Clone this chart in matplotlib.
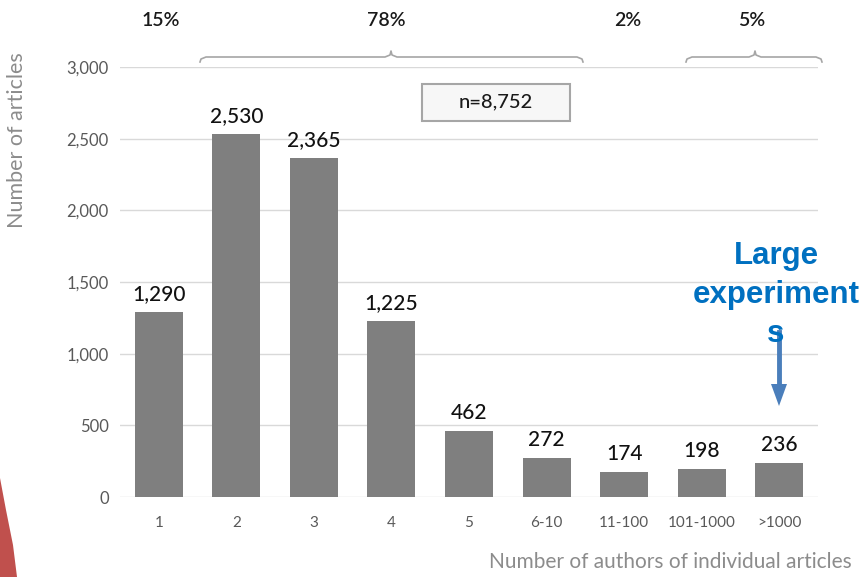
import matplotlib.pyplot as plt
from matplotlib.patches import Rectangle, Polygon

plt.rcParams['font.family'] = ['Lato', 'DejaVu Sans']

# --- DATA ---
categories = ['1', '2', '3', '4', '5', '6-10', '11-100', '101-1000', '>1000']
articles = [1290, 2530, 2365, 1225, 462, 272, 174, 198, 236]
value_labels = ['1,290', '2,530', '2,365', '1,225', '462', '272', '174', '198', '236']
yticks = [0, 500, 1000, 1500, 2000, 2500, 3000]
ytick_labels = ['0', '500', '1,000', '1,500', '2,000', '2,500', '3,000']
shares = ['15%', '78%', '2%', '5%']
total_label = 'n=8,752'

W, H = 866, 577
fig = plt.figure(figsize=(W / 100, H / 100), dpi=100)
ax = fig.add_axes([120 / W, 1 - 497 / H, (818 - 120) / W, (497 - 67) / H])

x = list(range(len(categories)))
ax.bar(x, articles, width=0.62, color='#7f7f7f', zorder=3)
for xi, v, lab in zip(x, articles, value_labels):
    ax.text(xi, v + 55, lab, ha='center', va='bottom', fontsize=15, color='#111111',
            fontweight='medium')

ax.set_xlim(-0.5, 8.5)
ax.set_ylim(0, 3000)
ax.set_yticks(yticks)
ax.set_yticklabels(ytick_labels)
ax.set_xticks(x)
ax.set_xticklabels(categories)
ax.tick_params(axis='y', length=0, pad=8, labelsize=12, labelcolor='#595959')
ax.tick_params(axis='x', length=0, pad=14, labelsize=11, labelcolor='#595959')
ax.grid(axis='y', color='#d9d9d9', linewidth=1, zorder=0)
for s in ax.spines.values():
    s.set_visible(False)

fig.text(17 / W, 1 - 140 / H, 'Number of articles', rotation=90, ha='center', va='center',
         fontsize=15.5, color='#8c8c8c')
fig.text(670 / W, 1 - 562 / H, 'Number of authors of individual articles', ha='center',
         va='center', fontsize=15, color='#8c8c8c')


# --- braces and shares above the plot (pixel coords -> figure coords) ---
def px(xp, yp):
    return xp / W, 1 - yp / H


def brace(x0, x1, xm, y_end=62, y_mid=57, y_top=51, r=6):
    pts = [(x0, y_end), (x0 + 1, y_mid + 2), (x0 + r, y_mid), (xm - r, y_mid),
           (xm - 1, y_mid - 2), (xm, y_top), (xm + 1, y_mid - 2), (xm + r, y_mid),
           (x1 - r, y_mid), (x1 - 1, y_mid + 2), (x1, y_end)]
    xs, ys = zip(*[px(a, b) for a, b in pts])
    fig.add_artist(plt.Line2D(xs, ys, color='#a6a6a6', linewidth=1.2))


brace(200, 583, 391)
brace(686, 822, 755)
for xs_, lab in zip([161, 386, 628, 752], shares):
    fig.text(*px(xs_, 20), lab, ha='center', va='center', fontsize=14, color='#1a1a1a',
             fontweight='semibold')

# n= box
fig.add_artist(Rectangle(px(422, 121), 148 / W, 37 / H, facecolor='#f7f7f7',
                         edgecolor='#a6a6a6', linewidth=1.5))
fig.text(*px(496, 102), total_label, ha='center', va='center', fontsize=14.5, color='#1a1a1a',
         fontweight='medium')

# large experiments note
fig.text(*px(776, 295), 'Large\nexperiment\ns', ha='center', va='center', fontsize=22.5,
         fontweight='bold', color='#0070c0', family=['Liberation Sans', 'DejaVu Sans'],
         linespacing=1.4)
fig.add_artist(plt.Line2D(*zip(px(779, 332), px(779, 385)), color='#4a7ebb', linewidth=3.5))
fig.add_artist(Polygon([px(771, 384), px(787, 384), px(779, 406)], closed=True,
                       facecolor='#4a7ebb', edgecolor='none'))

# red slide decoration bottom-left
fig.add_artist(Polygon([px(0, 478), px(6, 510), px(13, 545), px(17, 577), px(0, 577)],
                       closed=True, facecolor='#c0504d', edgecolor='none'))

fig.savefig('out.png', dpi=100)
